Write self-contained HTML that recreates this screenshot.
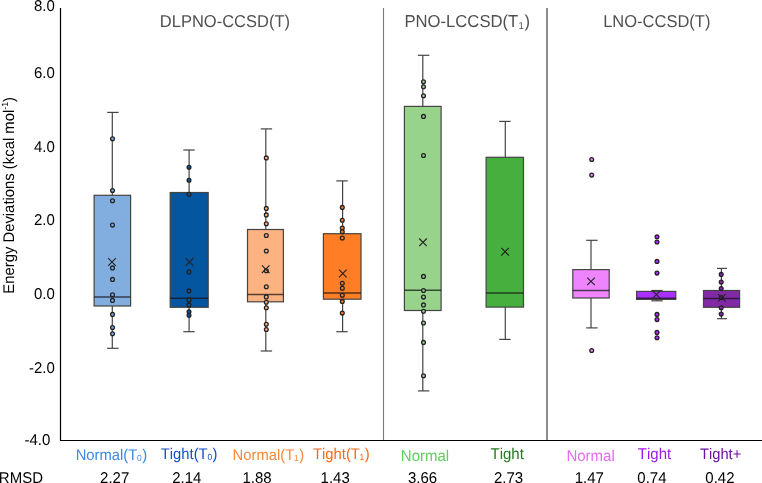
<!DOCTYPE html>
<html><head><meta charset="utf-8"><style>
html,body{margin:0;padding:0;background:#fff;overflow:hidden}
svg{display:block;font-family:"Liberation Sans", sans-serif;will-change:transform;font-kerning:none;text-rendering:geometricPrecision}
</style></head><body>
<svg width="762" height="483" viewBox="0 0 762 483">
<line x1="60.5" y1="8" x2="60.5" y2="441" stroke="#000" stroke-width="1.2"/>
<line x1="60" y1="440.5" x2="762" y2="440.5" stroke="#000" stroke-width="1.2"/>
<line x1="383.5" y1="8" x2="383.5" y2="440" stroke="#7a7a7a" stroke-width="1.1"/>
<line x1="547" y1="8" x2="547" y2="440" stroke="#6e6e6e" stroke-width="1.6"/>
<line x1="112.3" y1="112.4" x2="112.3" y2="195.3" stroke="#444" stroke-width="1.2"/>
<line x1="112.3" y1="306.0" x2="112.3" y2="348.3" stroke="#444" stroke-width="1.2"/>
<line x1="107.2" y1="112.4" x2="118.6" y2="112.4" stroke="#444" stroke-width="1.2"/>
<line x1="107.2" y1="348.3" x2="118.6" y2="348.3" stroke="#444" stroke-width="1.2"/>
<rect x="94.1" y="195.3" width="36.5" height="110.7" fill="#82ADDF" stroke="#444" stroke-width="1.2"/>
<line x1="94.1" y1="297.0" x2="130.6" y2="297.0" stroke="#141414" stroke-opacity="0.72" stroke-width="1.5"/>
<circle cx="112.5" cy="138.8" r="1.9" fill="#82ADDF" stroke="#222" stroke-width="1.3"/>
<circle cx="112.5" cy="190.5" r="1.9" fill="#82ADDF" stroke="#222" stroke-width="1.3"/>
<circle cx="112.5" cy="200.8" r="1.9" fill="#82ADDF" stroke="#222" stroke-width="1.3"/>
<circle cx="112.5" cy="225.1" r="1.9" fill="#82ADDF" stroke="#222" stroke-width="1.3"/>
<circle cx="112.5" cy="267.9" r="1.9" fill="#82ADDF" stroke="#222" stroke-width="1.3"/>
<circle cx="112.5" cy="279.4" r="1.9" fill="#82ADDF" stroke="#222" stroke-width="1.3"/>
<circle cx="112.5" cy="294.8" r="1.9" fill="#82ADDF" stroke="#222" stroke-width="1.3"/>
<circle cx="112.5" cy="300.4" r="1.9" fill="#82ADDF" stroke="#222" stroke-width="1.3"/>
<circle cx="112.5" cy="314.4" r="1.9" fill="#82ADDF" stroke="#222" stroke-width="1.3"/>
<circle cx="112.5" cy="327.5" r="1.9" fill="#82ADDF" stroke="#222" stroke-width="1.3"/>
<circle cx="112.5" cy="333.7" r="1.9" fill="#82ADDF" stroke="#222" stroke-width="1.3"/>
<path d="M108.2 258.2L115.8 265.8M115.8 258.2L108.2 265.8" stroke="#222" stroke-width="1.1" fill="none"/>
<line x1="189.1" y1="150.0" x2="189.1" y2="192.5" stroke="#444" stroke-width="1.2"/>
<line x1="189.1" y1="307.3" x2="189.1" y2="331.7" stroke="#444" stroke-width="1.2"/>
<line x1="183.3" y1="150.0" x2="194.7" y2="150.0" stroke="#444" stroke-width="1.2"/>
<line x1="183.3" y1="331.7" x2="194.7" y2="331.7" stroke="#444" stroke-width="1.2"/>
<rect x="170.2" y="192.5" width="38.0" height="114.8" fill="#0456A0" stroke="#444" stroke-width="1.2"/>
<line x1="170.2" y1="298.3" x2="208.2" y2="298.3" stroke="#141414" stroke-opacity="0.72" stroke-width="1.5"/>
<circle cx="189.0" cy="167.3" r="1.9" fill="#0456A0" stroke="#222" stroke-width="1.3"/>
<circle cx="189.0" cy="180.2" r="1.9" fill="#0456A0" stroke="#222" stroke-width="1.3"/>
<circle cx="189.0" cy="194.3" r="1.9" fill="#0456A0" stroke="#222" stroke-width="1.3"/>
<circle cx="189.0" cy="271.9" r="1.9" fill="#0456A0" stroke="#222" stroke-width="1.3"/>
<circle cx="189.0" cy="290.9" r="1.9" fill="#0456A0" stroke="#222" stroke-width="1.3"/>
<circle cx="189.0" cy="299.9" r="1.9" fill="#0456A0" stroke="#222" stroke-width="1.3"/>
<circle cx="189.0" cy="304.9" r="1.9" fill="#0456A0" stroke="#222" stroke-width="1.3"/>
<circle cx="189.0" cy="311.7" r="1.9" fill="#0456A0" stroke="#222" stroke-width="1.3"/>
<circle cx="189.0" cy="315.3" r="1.9" fill="#0456A0" stroke="#222" stroke-width="1.3"/>
<path d="M185.7 258.2L193.3 265.8M193.3 258.2L185.7 265.8" stroke="#222" stroke-width="1.1" fill="none"/>
<line x1="265.8" y1="128.9" x2="265.8" y2="229.5" stroke="#444" stroke-width="1.2"/>
<line x1="265.8" y1="301.8" x2="265.8" y2="351.0" stroke="#444" stroke-width="1.2"/>
<line x1="260.7" y1="128.9" x2="272.1" y2="128.9" stroke="#444" stroke-width="1.2"/>
<line x1="260.7" y1="351.0" x2="272.1" y2="351.0" stroke="#444" stroke-width="1.2"/>
<rect x="247.5" y="229.5" width="35.9" height="72.3" fill="#FDB282" stroke="#444" stroke-width="1.2"/>
<line x1="247.5" y1="294.4" x2="283.4" y2="294.4" stroke="#141414" stroke-opacity="0.72" stroke-width="1.5"/>
<circle cx="266.3" cy="157.9" r="1.9" fill="#FDB282" stroke="#222" stroke-width="1.3"/>
<circle cx="266.3" cy="208.4" r="1.9" fill="#FDB282" stroke="#222" stroke-width="1.3"/>
<circle cx="266.3" cy="214.9" r="1.9" fill="#FDB282" stroke="#222" stroke-width="1.3"/>
<circle cx="266.3" cy="223.7" r="1.9" fill="#FDB282" stroke="#222" stroke-width="1.3"/>
<circle cx="266.3" cy="235.5" r="1.9" fill="#FDB282" stroke="#222" stroke-width="1.3"/>
<circle cx="266.3" cy="251.0" r="1.9" fill="#FDB282" stroke="#222" stroke-width="1.3"/>
<circle cx="266.3" cy="270.7" r="1.9" fill="#FDB282" stroke="#222" stroke-width="1.3"/>
<circle cx="266.3" cy="286.7" r="1.9" fill="#FDB282" stroke="#222" stroke-width="1.3"/>
<circle cx="266.3" cy="296.9" r="1.9" fill="#FDB282" stroke="#222" stroke-width="1.3"/>
<circle cx="266.3" cy="302.3" r="1.9" fill="#FDB282" stroke="#222" stroke-width="1.3"/>
<circle cx="266.3" cy="307.8" r="1.9" fill="#FDB282" stroke="#222" stroke-width="1.3"/>
<circle cx="266.3" cy="324.2" r="1.9" fill="#FDB282" stroke="#222" stroke-width="1.3"/>
<circle cx="266.3" cy="329.5" r="1.9" fill="#FDB282" stroke="#222" stroke-width="1.3"/>
<path d="M261.9 265.4L269.5 273.0M269.5 265.4L261.9 273.0" stroke="#222" stroke-width="1.1" fill="none"/>
<line x1="342.6" y1="180.9" x2="342.6" y2="233.7" stroke="#444" stroke-width="1.2"/>
<line x1="342.6" y1="299.2" x2="342.6" y2="331.7" stroke="#444" stroke-width="1.2"/>
<line x1="336.3" y1="180.9" x2="347.7" y2="180.9" stroke="#444" stroke-width="1.2"/>
<line x1="336.3" y1="331.7" x2="347.7" y2="331.7" stroke="#444" stroke-width="1.2"/>
<rect x="323.4" y="233.7" width="37.6" height="65.5" fill="#FE7D25" stroke="#444" stroke-width="1.2"/>
<line x1="323.4" y1="292.9" x2="361.0" y2="292.9" stroke="#141414" stroke-opacity="0.72" stroke-width="1.5"/>
<circle cx="342.3" cy="207.4" r="1.9" fill="#FE7D25" stroke="#222" stroke-width="1.3"/>
<circle cx="342.3" cy="220.3" r="1.9" fill="#FE7D25" stroke="#222" stroke-width="1.3"/>
<circle cx="342.3" cy="228.0" r="1.9" fill="#FE7D25" stroke="#222" stroke-width="1.3"/>
<circle cx="342.3" cy="231.7" r="1.9" fill="#FE7D25" stroke="#222" stroke-width="1.3"/>
<circle cx="342.3" cy="238.0" r="1.9" fill="#FE7D25" stroke="#222" stroke-width="1.3"/>
<circle cx="342.3" cy="283.2" r="1.9" fill="#FE7D25" stroke="#222" stroke-width="1.3"/>
<circle cx="342.3" cy="288.3" r="1.9" fill="#FE7D25" stroke="#222" stroke-width="1.3"/>
<circle cx="342.3" cy="295.2" r="1.9" fill="#FE7D25" stroke="#222" stroke-width="1.3"/>
<circle cx="342.3" cy="301.4" r="1.9" fill="#FE7D25" stroke="#222" stroke-width="1.3"/>
<circle cx="342.3" cy="313.1" r="1.9" fill="#FE7D25" stroke="#222" stroke-width="1.3"/>
<path d="M339.0 269.7L346.6 277.3M346.6 269.7L339.0 277.3" stroke="#222" stroke-width="1.1" fill="none"/>
<line x1="422.8" y1="55.3" x2="422.8" y2="106.4" stroke="#444" stroke-width="1.2"/>
<line x1="422.8" y1="310.5" x2="422.8" y2="390.9" stroke="#444" stroke-width="1.2"/>
<line x1="417.9" y1="55.3" x2="429.3" y2="55.3" stroke="#444" stroke-width="1.2"/>
<line x1="417.9" y1="390.9" x2="429.3" y2="390.9" stroke="#444" stroke-width="1.2"/>
<rect x="404.4" y="106.4" width="36.7" height="204.1" fill="#97D38B" stroke="#444" stroke-width="1.2"/>
<line x1="404.4" y1="290.2" x2="441.1" y2="290.2" stroke="#141414" stroke-opacity="0.72" stroke-width="1.5"/>
<circle cx="423.5" cy="81.7" r="1.9" fill="#97D38B" stroke="#222" stroke-width="1.3"/>
<circle cx="423.5" cy="86.8" r="1.9" fill="#97D38B" stroke="#222" stroke-width="1.3"/>
<circle cx="423.5" cy="95.7" r="1.9" fill="#97D38B" stroke="#222" stroke-width="1.3"/>
<circle cx="423.5" cy="116.4" r="1.9" fill="#97D38B" stroke="#222" stroke-width="1.3"/>
<circle cx="423.5" cy="155.5" r="1.9" fill="#97D38B" stroke="#222" stroke-width="1.3"/>
<circle cx="423.5" cy="276.4" r="1.9" fill="#97D38B" stroke="#222" stroke-width="1.3"/>
<circle cx="423.5" cy="290.5" r="1.9" fill="#97D38B" stroke="#222" stroke-width="1.3"/>
<circle cx="423.5" cy="297.1" r="1.9" fill="#97D38B" stroke="#222" stroke-width="1.3"/>
<circle cx="423.5" cy="304.9" r="1.9" fill="#97D38B" stroke="#222" stroke-width="1.3"/>
<circle cx="423.5" cy="311.2" r="1.9" fill="#97D38B" stroke="#222" stroke-width="1.3"/>
<circle cx="423.5" cy="323.0" r="1.9" fill="#97D38B" stroke="#222" stroke-width="1.3"/>
<circle cx="423.5" cy="342.4" r="1.9" fill="#97D38B" stroke="#222" stroke-width="1.3"/>
<circle cx="423.5" cy="375.8" r="1.9" fill="#97D38B" stroke="#222" stroke-width="1.3"/>
<path d="M419.2 238.5L426.8 246.1M426.8 238.5L419.2 246.1" stroke="#222" stroke-width="1.1" fill="none"/>
<line x1="505.3" y1="121.4" x2="505.3" y2="157.3" stroke="#444" stroke-width="1.2"/>
<line x1="505.3" y1="307.1" x2="505.3" y2="339.4" stroke="#444" stroke-width="1.2"/>
<line x1="499.2" y1="121.4" x2="510.6" y2="121.4" stroke="#444" stroke-width="1.2"/>
<line x1="499.2" y1="339.4" x2="510.6" y2="339.4" stroke="#444" stroke-width="1.2"/>
<rect x="486.1" y="157.3" width="37.4" height="149.8" fill="#46AF3E" stroke="#444" stroke-width="1.2"/>
<line x1="486.1" y1="293.0" x2="523.5" y2="293.0" stroke="#141414" stroke-opacity="0.72" stroke-width="1.5"/>
<path d="M501.3 247.9L508.9 255.5M508.9 247.9L501.3 255.5" stroke="#222" stroke-width="1.1" fill="none"/>
<line x1="591.0" y1="240.3" x2="591.0" y2="269.6" stroke="#444" stroke-width="1.2"/>
<line x1="591.0" y1="298.0" x2="591.0" y2="327.9" stroke="#444" stroke-width="1.2"/>
<line x1="586.2" y1="240.3" x2="597.6" y2="240.3" stroke="#444" stroke-width="1.2"/>
<line x1="586.2" y1="327.9" x2="597.6" y2="327.9" stroke="#444" stroke-width="1.2"/>
<rect x="572.8" y="269.6" width="36.4" height="28.4" fill="#EF85FE" stroke="#444" stroke-width="1.2"/>
<line x1="572.8" y1="290.6" x2="609.2" y2="290.6" stroke="#141414" stroke-opacity="0.72" stroke-width="1.5"/>
<circle cx="591.7" cy="159.5" r="1.9" fill="#EF85FE" stroke="#222" stroke-width="1.3"/>
<circle cx="591.7" cy="175.1" r="1.9" fill="#EF85FE" stroke="#222" stroke-width="1.3"/>
<circle cx="591.7" cy="350.5" r="1.9" fill="#EF85FE" stroke="#222" stroke-width="1.3"/>
<path d="M587.2 277.6L594.8 285.2M594.8 277.6L587.2 285.2" stroke="#222" stroke-width="1.1" fill="none"/>
<line x1="657.0" y1="290.5" x2="657.0" y2="291.4" stroke="#444" stroke-width="1.2"/>
<line x1="657.0" y1="299.4" x2="657.0" y2="300.8" stroke="#444" stroke-width="1.2"/>
<line x1="651.3" y1="290.5" x2="662.7" y2="290.5" stroke="#444" stroke-width="1.2"/>
<line x1="651.3" y1="300.8" x2="662.7" y2="300.8" stroke="#444" stroke-width="1.2"/>
<rect x="636.6" y="291.4" width="39.2" height="8.0" fill="#AA30FE" stroke="#444" stroke-width="1.2"/>
<line x1="636.6" y1="298.2" x2="675.8" y2="298.2" stroke="#141414" stroke-opacity="0.72" stroke-width="1.5"/>
<circle cx="657.0" cy="236.7" r="1.9" fill="#AA30FE" stroke="#222" stroke-width="1.3"/>
<circle cx="657.0" cy="242.0" r="1.9" fill="#AA30FE" stroke="#222" stroke-width="1.3"/>
<circle cx="657.0" cy="261.4" r="1.9" fill="#AA30FE" stroke="#222" stroke-width="1.3"/>
<circle cx="657.0" cy="273.1" r="1.9" fill="#AA30FE" stroke="#222" stroke-width="1.3"/>
<circle cx="657.0" cy="314.4" r="1.9" fill="#AA30FE" stroke="#222" stroke-width="1.3"/>
<circle cx="657.0" cy="319.6" r="1.9" fill="#AA30FE" stroke="#222" stroke-width="1.3"/>
<circle cx="657.0" cy="332.4" r="1.9" fill="#AA30FE" stroke="#222" stroke-width="1.3"/>
<circle cx="657.0" cy="337.7" r="1.9" fill="#AA30FE" stroke="#222" stroke-width="1.3"/>
<path d="M652.6 290.8L660.2 298.4M660.2 290.8L652.6 298.4" stroke="#222" stroke-width="1.1" fill="none"/>
<line x1="721.4" y1="268.4" x2="721.4" y2="290.5" stroke="#444" stroke-width="1.2"/>
<line x1="721.4" y1="307.3" x2="721.4" y2="318.7" stroke="#444" stroke-width="1.2"/>
<line x1="717.0" y1="268.4" x2="727.0" y2="268.4" stroke="#444" stroke-width="1.2"/>
<line x1="717.0" y1="318.7" x2="727.0" y2="318.7" stroke="#444" stroke-width="1.2"/>
<rect x="703.5" y="290.5" width="36.1" height="16.8" fill="#822AA6" stroke="#444" stroke-width="1.2"/>
<line x1="703.5" y1="298.4" x2="739.6" y2="298.4" stroke="#141414" stroke-opacity="0.72" stroke-width="1.5"/>
<circle cx="721.2" cy="274.4" r="1.9" fill="#822AA6" stroke="#222" stroke-width="1.3"/>
<circle cx="721.2" cy="282.1" r="1.9" fill="#822AA6" stroke="#222" stroke-width="1.3"/>
<circle cx="721.2" cy="288.5" r="1.9" fill="#822AA6" stroke="#222" stroke-width="1.3"/>
<circle cx="721.2" cy="297.6" r="1.9" fill="#822AA6" stroke="#222" stroke-width="1.3"/>
<circle cx="721.2" cy="307.8" r="1.9" fill="#822AA6" stroke="#222" stroke-width="1.3"/>
<circle cx="721.2" cy="314.1" r="1.9" fill="#822AA6" stroke="#222" stroke-width="1.3"/>
<path d="M718.0 294.1L725.6 301.7M725.6 294.1L718.0 301.7" stroke="#222" stroke-width="1.1" fill="none"/>
<text x="54.9" y="10.5" transform="translate(0,10.50) scale(1,1.04) translate(0,-10.50)" text-anchor="end" font-size="15" fill="#000">8.0</text>
<text x="54.9" y="78.0" transform="translate(0,78.00) scale(1,1.04) translate(0,-78.00)" text-anchor="end" font-size="15" fill="#000">6.0</text>
<text x="54.9" y="151.9" transform="translate(0,151.90) scale(1,1.04) translate(0,-151.90)" text-anchor="end" font-size="15" fill="#000">4.0</text>
<text x="54.9" y="225.2" transform="translate(0,225.20) scale(1,1.04) translate(0,-225.20)" text-anchor="end" font-size="15" fill="#000">2.0</text>
<text x="54.9" y="299.0" transform="translate(0,299.00) scale(1,1.04) translate(0,-299.00)" text-anchor="end" font-size="15" fill="#000">0.0</text>
<text x="54.9" y="372.8" transform="translate(0,372.80) scale(1,1.04) translate(0,-372.80)" text-anchor="end" font-size="15" fill="#000">-2.0</text>
<text x="50.4" y="444.7" transform="translate(0,444.70) scale(1,1.04) translate(0,-444.70)" text-anchor="end" font-size="15" fill="#000">-4.0</text>
<text transform="translate(14.0,195.4) rotate(-90) scale(1,1.04)" text-anchor="middle" font-size="14.85" fill="#000">Energy Deviations (kcal mol<tspan font-size="8.7" dy="-5.3">-1</tspan><tspan dy="5.3">)</tspan></text>
<text x="161.1" y="27.0" transform="translate(0,27.00) scale(1,1.04) translate(0,-27.00)" font-size="16.5" fill="#505050" dx="-1.3">DLPNO-CCSD(T)</text>
<text x="405.8" y="27.0" transform="translate(0,27.00) scale(1,1.04) translate(0,-27.00)" font-size="16.65" fill="#505050" dx="-1.3">PNO-LCCSD(T<tspan font-size="9.6" dy="2.4" dx="0.3">1</tspan><tspan dy="-2.4" dx="0.6">)</tspan></text>
<text x="604.4" y="27.0" transform="translate(0,27.00) scale(1,1.04) translate(0,-27.00)" font-size="16.5" fill="#505050" dx="-1.2">LNO-CCSD(T)</text>
<text x="75.7" y="459.5" transform="translate(0,459.50) scale(1,1.04) translate(0,-459.50)" font-size="14.8" fill="#3F88E0">Normal(T<tspan font-size="8.5" dy="1.5" dx="-0.3">0</tspan><tspan dy="-1.5" dx="0.5">)</tspan></text>
<text x="160.8" y="458.8" transform="translate(0,458.80) scale(1,1.04) translate(0,-458.80)" font-size="14.8" fill="#1450C0">Tight(T<tspan font-size="8.5" dy="1.5" dx="-0.3">0</tspan><tspan dy="-1.5" dx="0.5">)</tspan></text>
<text x="232.6" y="459.5" transform="translate(0,459.50) scale(1,1.04) translate(0,-459.50)" font-size="14.8" fill="#F78A3C">Normal(T<tspan font-size="8.5" dy="1.5" dx="-0.3">1</tspan><tspan dy="-1.5" dx="0.5">)</tspan></text>
<text x="313.0" y="458.8" transform="translate(0,458.80) scale(1,1.04) translate(0,-458.80)" font-size="14.8" fill="#F86A14">Tight(T<tspan font-size="8.5" dy="1.5" dx="-0.3">1</tspan><tspan dy="-1.5" dx="0.5">)</tspan></text>
<text x="400.8" y="460.8" transform="translate(0,460.80) scale(1,1.04) translate(0,-460.80)" font-size="15" fill="#60CE5C">Normal</text>
<text x="490.5" y="458.9" transform="translate(0,458.90) scale(1,1.04) translate(0,-458.90)" font-size="15" fill="#217A21">Tight</text>
<text x="566.4" y="460.8" transform="translate(0,460.80) scale(1,1.04) translate(0,-460.80)" font-size="15" fill="#E86AF4">Normal</text>
<text x="637.8" y="458.8" transform="translate(0,458.80) scale(1,1.04) translate(0,-458.80)" font-size="15" fill="#9A1AEE">Tight</text>
<text x="700.0" y="459.4" transform="translate(0,459.40) scale(1,1.04) translate(0,-459.40)" font-size="14.7" fill="#6B0FA3">Tight+</text>
<text x="-1.2" y="482.8" transform="translate(0,482.80) scale(1,1.04) translate(0,-482.80)" font-size="15" fill="#000">RMSD</text>
<text x="100.1" y="482.8" transform="translate(0,482.80) scale(1,1.04) translate(0,-482.80)" font-size="15" fill="#000">2.27</text>
<text x="172.2" y="482.8" transform="translate(0,482.80) scale(1,1.04) translate(0,-482.80)" font-size="15" fill="#000">2.14</text>
<text x="242.5" y="482.8" transform="translate(0,482.80) scale(1,1.04) translate(0,-482.80)" font-size="15" fill="#000">1.88</text>
<text x="320.6" y="482.8" transform="translate(0,482.80) scale(1,1.04) translate(0,-482.80)" font-size="15" fill="#000">1.43</text>
<text x="408.0" y="482.8" transform="translate(0,482.80) scale(1,1.04) translate(0,-482.80)" font-size="15" fill="#000">3.66</text>
<text x="494.0" y="482.8" transform="translate(0,482.80) scale(1,1.04) translate(0,-482.80)" font-size="15" fill="#000">2.73</text>
<text x="574.7" y="482.8" transform="translate(0,482.80) scale(1,1.04) translate(0,-482.80)" font-size="15" fill="#000">1.47</text>
<text x="637.3" y="482.8" transform="translate(0,482.80) scale(1,1.04) translate(0,-482.80)" font-size="15" fill="#000">0.74</text>
<text x="705.3" y="482.8" transform="translate(0,482.80) scale(1,1.04) translate(0,-482.80)" font-size="15" fill="#000">0.42</text>
</svg>
</body></html>
